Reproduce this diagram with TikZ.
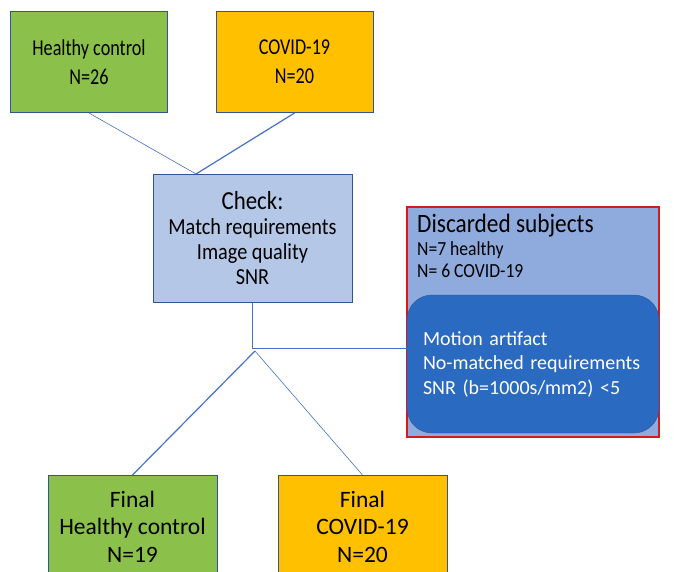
\documentclass[tikz,border=0pt]{standalone}
\usepackage{fontspec}
\setmainfont{Carlito}
\newfontfamily\narrowfont[FakeStretch=0.8]{Carlito}
\newfontfamily\midfont[FakeStretch=0.88]{Carlito}
\usetikzlibrary{positioning}
\definecolor{hcgreen}{HTML}{8BC14A}
\definecolor{covorange}{HTML}{FFC000}
\definecolor{checkblue}{HTML}{B4C7E7}
\definecolor{discblue}{HTML}{8FAADC}
\definecolor{reasonblue}{HTML}{2A6AC0}
\definecolor{edgeblue}{HTML}{2F5597}
\definecolor{linkblue}{HTML}{4472C4}
\definecolor{discred}{HTML}{D41A1A}

\begin{document}
\begin{tikzpicture}[
  x=1pt, y=-1pt,
  box/.style={draw=edgeblue, line width=1pt, align=center, inner sep=0pt,
    minimum width=157pt, minimum height=101pt,
    font=\narrowfont\fontsize{22.7}{29}\selectfont},
  finalbox/.style={box, minimum width=169pt, minimum height=102pt,
    font=\fontsize{23.5}{27.5}\selectfont},
  link/.style={draw=linkblue, line width=0.9pt}
]
\clip (0,0) rectangle (674,572);

\node[box, fill=hcgreen] (hc) at (89,62) {Healthy control\\N=26};
\node[box, fill=covorange] (covid) at (294.5,62) {COVID-19\\N=20};

\node[box, fill=checkblue, minimum width=199pt, minimum height=127pt,
  font=\midfont\fontsize{23}{25}\selectfont] (check) at (252.5,238.5)
  {{\fontsize{26}{25}\selectfont Check:}\\Match requirements\\Image quality\\SNR};

\node[draw=discred, line width=1.2pt, fill=discblue, minimum width=252pt,
  minimum height=230pt, inner sep=0pt] (disc) at (533,322) {};
\node[anchor=base west, inner sep=0pt, font=\midfont\fontsize{26.5}{26}\selectfont]
  (disctitle) at (417,232) {Discarded subjects};
\node[anchor=base west, inner sep=0pt, align=left,
  font=\midfont\fontsize{20}{22}\selectfont]
  (disccount) at (417,277.5) {N=7 healthy\\N= 6 COVID-19};
\node[draw=edgeblue, fill=reasonblue, rounded corners=25pt, text=white,
  align=left, text width=220pt, inner xsep=16pt, minimum height=138pt,
  font=\fontsize{20}{24.5}\selectfont] (reasons) at (533,364)
  {Motion artifact\\No-matched requirements\\SNR (b=1000s/mm2) <5};

\node[finalbox, fill=hcgreen] (finalhc) at (132.5,526.5) {Final\\Healthy control\\N=19};
\node[finalbox, fill=covorange] (finalcovid) at (362.5,526.5) {Final\\COVID-19\\N=20};

\coordinate (checkin) at (196,174);
\coordinate (reasonin) at (407,348);
\coordinate (split) at (255,351);

\draw[link, line width=0.6pt] (hc.south) -- (checkin);
\draw[link, line width=1.2pt] (covid.south) -- (checkin);
\draw[link] (check.south) |- (reasonin);
\draw[link, line width=1.2pt] (split) -- (finalhc.north);
\draw[link, line width=0.6pt] (split) -- (finalcovid.north);

\end{tikzpicture}
\end{document}
